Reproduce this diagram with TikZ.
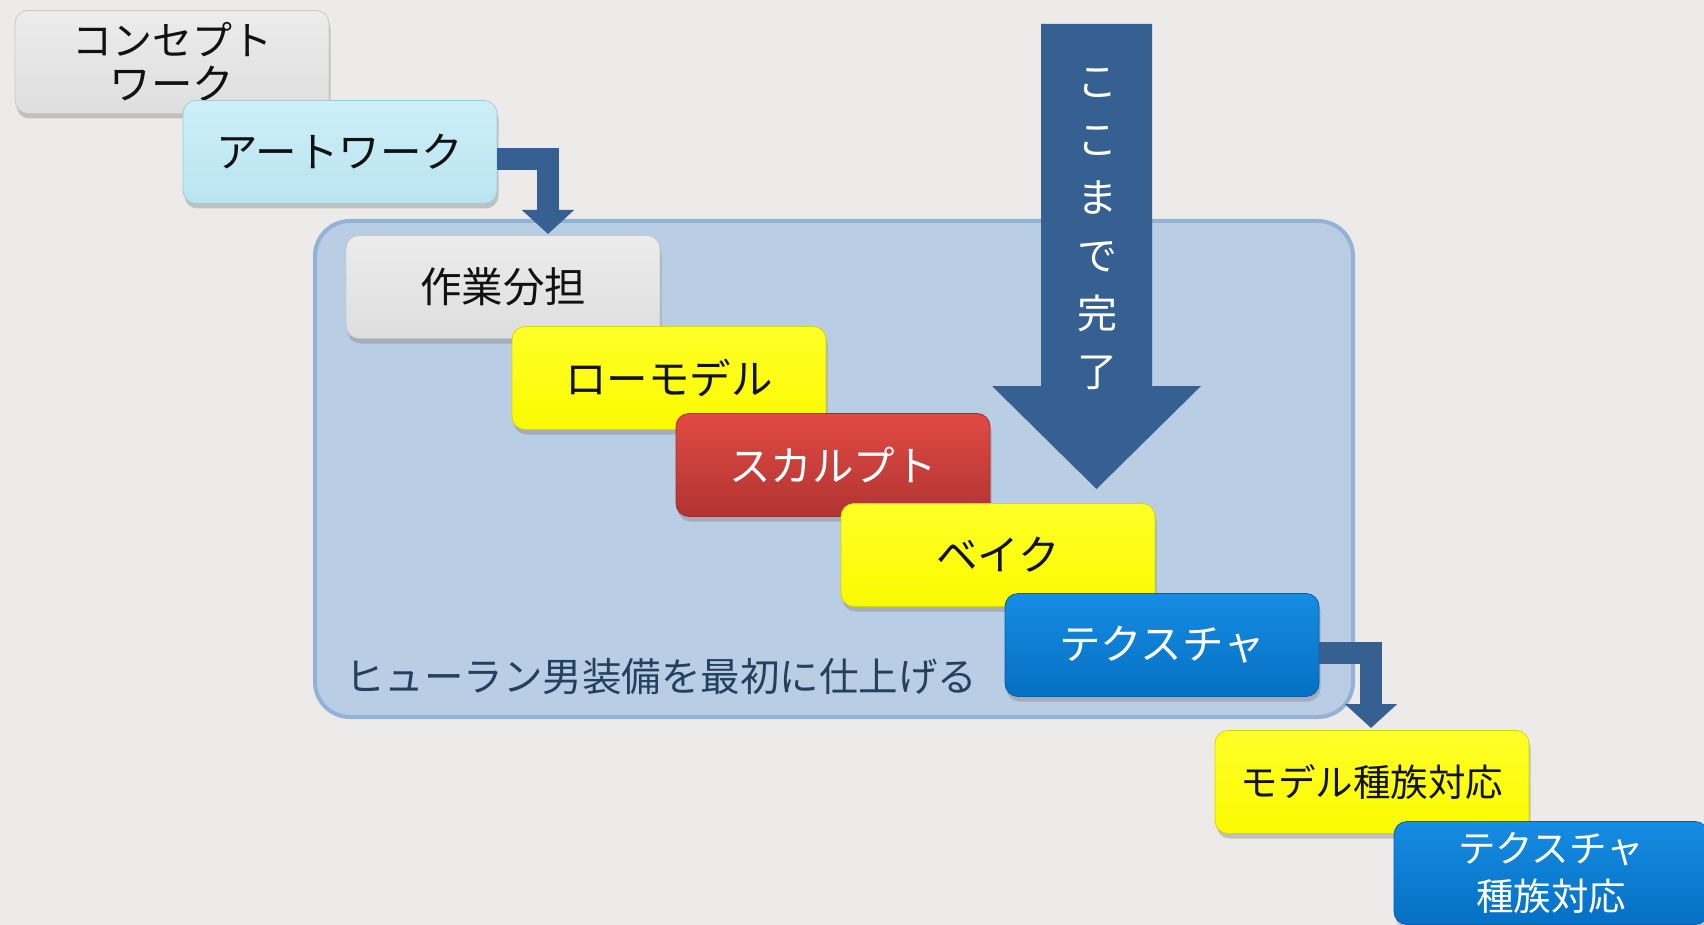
\documentclass[tikz,border=0pt]{standalone}
\usepackage{fontspec}
\setmainfont{Noto Sans CJK JP}
\usetikzlibrary{shadows,arrows.meta}
\definecolor{bg}{HTML}{ECEBEA}
\definecolor{contfill}{HTML}{B9CDE5}
\definecolor{contborder}{HTML}{93B2D6}
\definecolor{arrowblue}{HTML}{366092}
\definecolor{labelcol}{HTML}{24405F}
\definecolor{txtdark}{HTML}{111111}
\tikzset{
  stage/.style={rectangle, rounded corners=13pt, minimum width=314pt, minimum height=103pt,
    inner sep=0pt, align=center, text=txtdark, font=\fontsize{41.5}{44}\selectfont,
    drop shadow={shadow xshift=1.5pt, shadow yshift=-5pt, opacity=0.4}},
  graybox/.style={stage, top color={rgb,255:red,236;green,236;blue,236}, bottom color={rgb,255:red,222;green,222;blue,222}, draw={rgb,255:red,200;green,200;blue,200}, line width=0.8pt},
  cyanbox/.style={stage, top color={rgb,255:red,205;green,239;blue,248}, bottom color={rgb,255:red,185;green,228;blue,240}, draw={rgb,255:red,160;green,205;blue,220}, line width=0.8pt},
  yellowbox/.style={stage, top color={rgb,255:red,255;green,255;blue,40}, bottom color={rgb,255:red,250;green,250;blue,0}, draw={rgb,255:red,215;green,215;blue,0}, line width=0.8pt},
  redbox/.style={stage, text=white, top color={rgb,255:red,226;green,74;blue,68}, bottom color={rgb,255:red,176;green,52;blue,50}, draw={rgb,255:red,160;green,45;blue,42}, line width=0.8pt},
  bluebox/.style={stage, text=white, top color={rgb,255:red,22;green,140;blue,226}, bottom color={rgb,255:red,5;green,112;blue,196}, draw={rgb,255:red,4;green,95;blue,170}, line width=0.8pt},
  flowarrow/.style={draw=arrowblue, line width=22pt, -{Triangle[length=24pt,width=51pt]}, arrowblue},
}
\begin{document}
\begin{tikzpicture}[x=1pt,y=-1pt]
\fill[bg] (0,0) rectangle (1704,925);
\useasboundingbox (0,0) rectangle (1704,925);

% container
\node[rectangle, rounded corners=35pt, minimum width=1038pt, minimum height=496pt,
      fill=contfill, draw=contborder, line width=4pt] (phase) at (834,469) {};

% label
\node[anchor=west, font=\fontsize{39.5}{44}\selectfont, text=labelcol, inner sep=0pt] (goal) at (345,677) {ヒューラン男装備を最初に仕上げる};

% big arrow
\fill[arrowblue] (1041,24) -- (1152,24) -- (1152,386) -- (1201,386) -- (1096.5,489) -- (992,386) -- (1041,386) -- cycle;
\node[text=white, align=center, font=\fontsize{40}{58}\selectfont, inner sep=0pt] (done) at (1097,229) {こ\\こ\\ま\\で\\完\\了};

% boxes
\node[graybox] (concept) at (172,62) {\fontsize{40}{42}\selectfont コンセプト\\ワーク};
\node[cyanbox] (artwork) at (340,152) {アートワーク};

\coordinate (tipA) at (548,234);
\coordinate (tipB) at (1371,728);
\draw[flowarrow] ([yshift=-7pt]artwork.east) -| (tipA);

\node[graybox] (share) at (503,287) {作業分担};
\node[yellowbox] (low) at (669,378) {ローモデル};
\node[redbox] (sculpt) at (833,465) {スカルプト};
\node[yellowbox] (bake) at (998,555) {ベイク};
\node[bluebox] (tex) at (1162,645) {テクスチャ};

\draw[flowarrow] ([yshift=-8pt]tex.east) -| (tipB);

\node[yellowbox, font=\fontsize{37.5}{42}\selectfont] (modelrace) at (1372,782) {モデル種族対応};
\node[bluebox, font=\fontsize{37.5}{48}\selectfont] (texrace) at (1551,873) {テクスチャ\\種族対応};
\end{tikzpicture}
\end{document}
